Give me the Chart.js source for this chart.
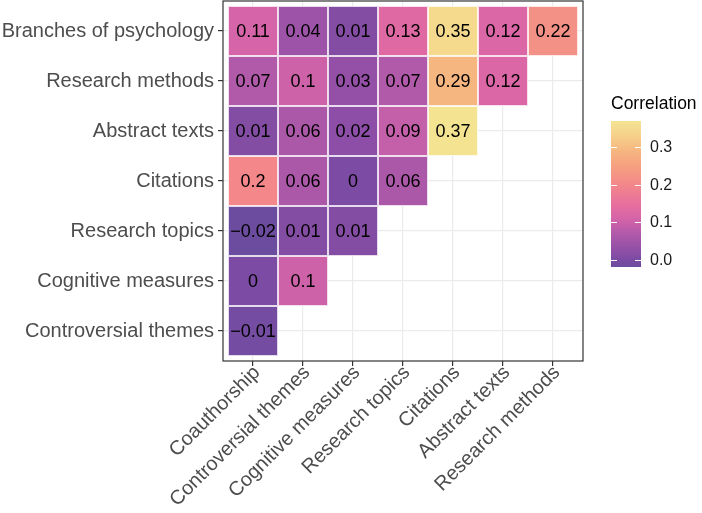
<!DOCTYPE html>
<html lang="en">
<head>
<meta charset="UTF-8">
<title>Correlation heatmap</title>
<script src="https://cdn.jsdelivr.net/npm/chart.js"></script>
<style>
  html, body { margin: 0; padding: 0; background: #ffffff; }
  .chart-container { width: 702px; height: 513px; }
</style>
</head>
<body>
<div class="chart-container"><canvas id="corrChart" width="702" height="513"></canvas></div>
<script>
// categories (columns left to right, rows top to bottom)
const colLabels = ['Coauthorship', 'Controversial themes', 'Cognitive measures', 'Research topics', 'Citations', 'Abstract texts', 'Research methods'];
const rowLabels = ['Branches of psychology', 'Research methods', 'Abstract texts', 'Citations', 'Research topics', 'Cognitive measures', 'Controversial themes'];
// correlation values, one list per row
const branchesVals = [0.11, 0.04, 0.01, 0.13, 0.35, 0.12, 0.22];
const methodsVals = [0.07, 0.1, 0.03, 0.07, 0.29, 0.12];
const abstractVals = [0.01, 0.06, 0.02, 0.09, 0.37];
const citationsVals = [0.2, 0.06, 0, 0.06];
const topicsVals = [-0.02, 0.01, 0.01];
const cognitiveVals = [0, 0.1];
const controversialVals = [-0.01];
const legendTitle = 'Correlation';
const legendTicks = [0.0, 0.1, 0.2, 0.3];
const fillLimits = [-0.02, 0.37];

const rows = [branchesVals, methodsVals, abstractVals, citationsVals, topicsVals, cognitiveVals, controversialVals];

// colour ramp (value -> rgb)
const colorStops = [
  [-0.02, [108, 76, 158]],
  [0.00, [124, 75, 163]],
  [0.03, [148, 80, 167]],
  [0.07, [178, 90, 170]],
  [0.11, [214, 100, 168]],
  [0.15, [232, 112, 158]],
  [0.20, [243, 135, 138]],
  [0.25, [246, 160, 128]],
  [0.29, [246, 182, 128]],
  [0.33, [245, 208, 138]],
  [0.37, [244, 228, 146]]
];

function colorFor(v) {
  if (v <= colorStops[0][0]) return 'rgb(' + colorStops[0][1].join(',') + ')';
  for (let i = 1; i < colorStops.length; i++) {
    const [v1, c1] = colorStops[i];
    const [v0, c0] = colorStops[i - 1];
    if (v <= v1) {
      const t = (v - v0) / (v1 - v0);
      const c = c0.map((a, k) => Math.round(a + (c1[k] - a) * t));
      return 'rgb(' + c.join(',') + ')';
    }
  }
  return 'rgb(' + colorStops[colorStops.length - 1][1].join(',') + ')';
}

function fmt(v) {
  return String(v).replace('-', '\u2212');
}

// build points: x = column index (1..7), y = 7 at top row
const points = [];
rows.forEach((vals, r) => {
  vals.forEach((v, c) => points.push({ x: c + 1, y: rowLabels.length - r, v: v }));
});

const FONT = '"Liberation Sans", Arial, sans-serif';

const tilePlugin = {
  id: 'tiles',
  beforeDatasetsDraw(chart) {
    const { ctx, scales: { x, y } } = chart;
    ctx.save();
    ctx.font = '18px ' + FONT;
    ctx.textAlign = 'center';
    ctx.textBaseline = 'middle';
    chart.data.datasets[0].data.forEach(p => {
      const x0 = x.getPixelForValue(p.x - 0.5);
      const x1 = x.getPixelForValue(p.x + 0.5);
      const y0 = y.getPixelForValue(p.y + 0.5);
      const y1 = y.getPixelForValue(p.y - 0.5);
      ctx.fillStyle = colorFor(p.v);
      ctx.fillRect(x0, y0, x1 - x0, y1 - y0);
      ctx.strokeStyle = 'rgba(255,255,255,0.8)';
      ctx.lineWidth = 1;
      ctx.strokeRect(x0 + 0.5, y0 + 0.5, x1 - x0 - 1, y1 - y0 - 1);
      ctx.fillStyle = '#000000';
      ctx.fillText(fmt(p.v), (x0 + x1) / 2, (y0 + y1) / 2 + 1);
    });
    ctx.restore();
  },
  afterDraw(chart) {
    const { ctx, chartArea: a } = chart;
    ctx.save();
    // panel border
    ctx.strokeStyle = '#333333';
    ctx.lineWidth = 1.2;
    ctx.strokeRect(a.left, a.top, a.right - a.left, a.bottom - a.top);

    // colourbar legend
    const barL = 611, barR = 641, barT = 121, barB = 267;
    const toY = v => barB - (v - fillLimits[0]) / (fillLimits[1] - fillLimits[0]) * (barB - barT);
    const grad = ctx.createLinearGradient(0, barB, 0, barT);
    colorStops.forEach(([v, c]) => {
      grad.addColorStop((v - fillLimits[0]) / (fillLimits[1] - fillLimits[0]), 'rgb(' + c.join(',') + ')');
    });
    ctx.fillStyle = grad;
    ctx.fillRect(barL, barT, barR - barL, barB - barT);

    ctx.strokeStyle = '#ffffff';
    ctx.lineWidth = 1;
    ctx.font = '16px ' + FONT;
    ctx.fillStyle = '#1a1a1a';
    ctx.textAlign = 'left';
    ctx.textBaseline = 'middle';
    legendTicks.forEach(t => {
      const ty = Math.round(toY(t)) + 0.5;
      ctx.beginPath();
      ctx.moveTo(barL, ty); ctx.lineTo(barL + 6, ty);
      ctx.moveTo(barR - 6, ty); ctx.lineTo(barR, ty);
      ctx.stroke();
      ctx.fillText(t.toFixed(1), 650, ty);
    });

    ctx.font = '17.5px ' + FONT;
    ctx.fillStyle = '#000000';
    ctx.fillText(legendTitle, 611, 104);
    ctx.restore();
  }
};

const ctx = document.getElementById('corrChart').getContext('2d');
const chart = new Chart(ctx, {
  type: 'scatter',
  data: {
    datasets: [{
      data: points,
      pointRadius: 0,
      pointHoverRadius: 0
    }]
  },
  options: {
    responsive: false,
    animation: false,
    layout: { padding: { top: 1, right: 119, left: 0, bottom: 0 } },
    plugins: {
      legend: { display: false },
      tooltip: { enabled: false }
    },
    scales: {
      x: {
        type: 'linear',
        min: 0.4,
        max: 7.6,
        afterBuildTicks: s => { s.ticks = colLabels.map((c, i) => ({ value: i + 1 })); },
        afterFit: s => { s.height = 152; s.paddingLeft = 0; s.paddingRight = 0; },
        ticks: {
          autoSkip: false,
          minRotation: 45,
          maxRotation: 45,
          padding: -5,
          labelOffset: 4,
          color: '#4d4d4d',
          font: { family: FONT, size: 20 },
          callback: v => colLabels[v - 1]
        },
        grid: { color: '#ebebeb', tickColor: '#333333', tickLength: 5, lineWidth: 1.2 },
        border: { display: false }
      },
      y: {
        type: 'linear',
        min: 0.4,
        max: 7.6,
        afterBuildTicks: s => { s.ticks = rowLabels.map((r, i) => ({ value: i + 1 })); },
        afterFit: s => { s.width = 223; s.paddingTop = 0; s.paddingBottom = 0; },
        ticks: {
          autoSkip: false,
          padding: 4,
          color: '#4d4d4d',
          font: { family: FONT, size: 20 },
          callback: v => rowLabels[rowLabels.length - v]
        },
        grid: { color: '#ebebeb', tickColor: '#333333', tickLength: 5, lineWidth: 1.2 },
        border: { display: false }
      }
    }
  },
  plugins: [tilePlugin]
});
</script>
</body>
</html>
